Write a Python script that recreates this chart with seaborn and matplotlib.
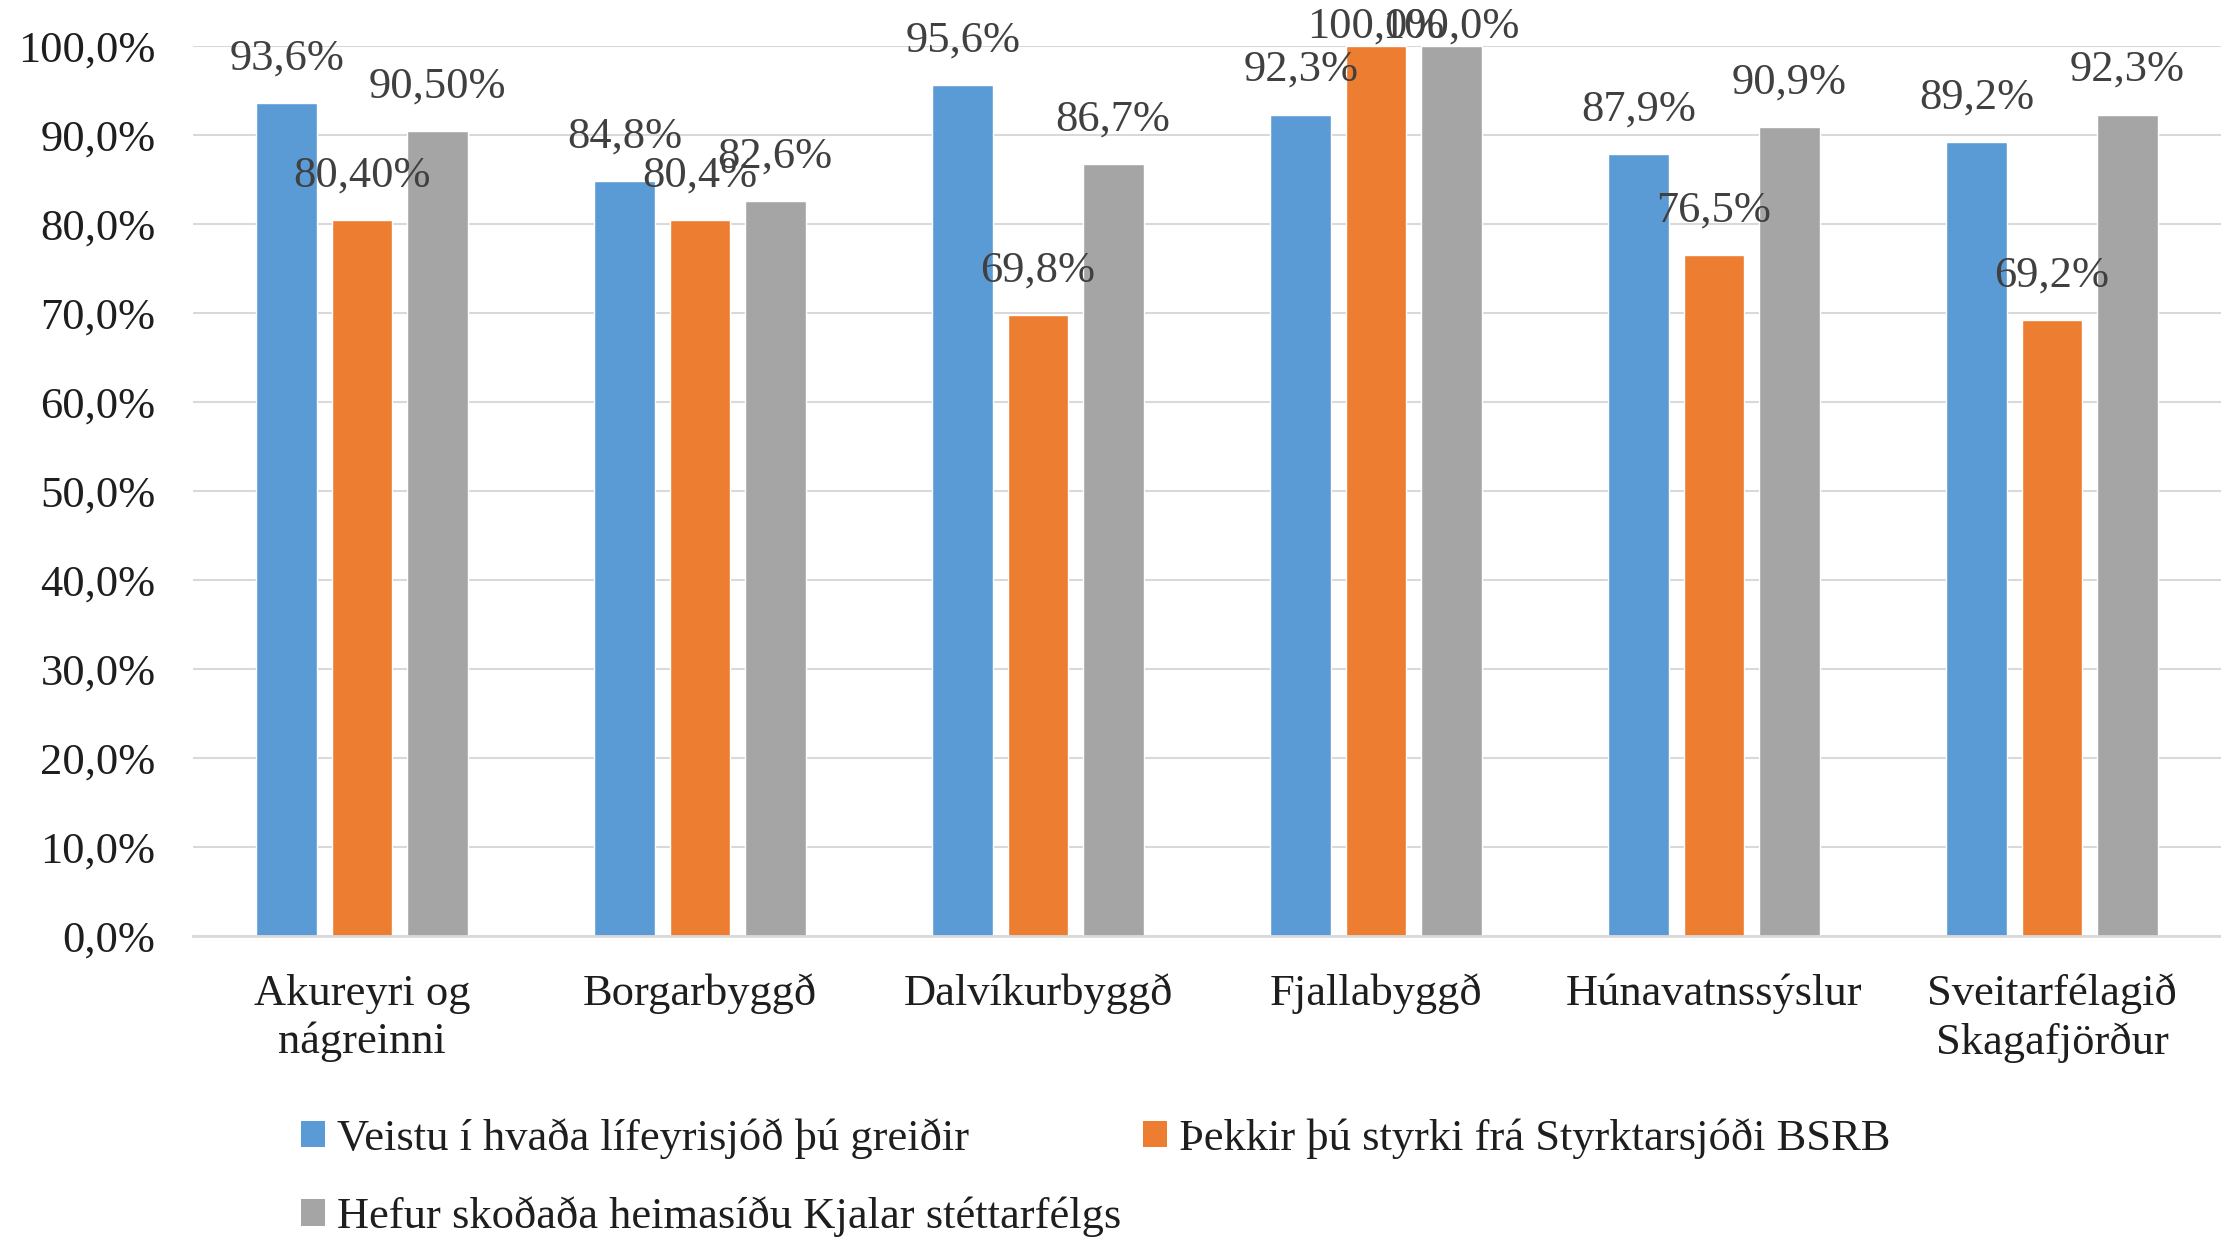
import pandas as pd
import matplotlib.pyplot as plt
import seaborn as sns
from matplotlib.patches import Patch

categories = ['Akureyri og\nnágreinni', 'Borgarbyggð', 'Dalvíkurbyggð',
              'Fjallabyggð', 'Húnavatnssýslur', 'Sveitarfélagið\nSkagafjörður']
series_names = ['Veistu í hvaða lífeyrisjóð þú greiðir',
                'Þekkir þú styrki frá Styrktarsjóði BSRB',
                'Hefur skoðaða heimasíðu Kjalar stéttarfélgs']
veistu = [0.936, 0.848, 0.956, 0.923, 0.879, 0.892]
thekkir = [0.804, 0.804, 0.698, 1.000, 0.765, 0.692]
hefur = [0.905, 0.826, 0.867, 1.000, 0.909, 0.923]
veistu_labels = ['93,6%', '84,8%', '95,6%', '92,3%', '87,9%', '89,2%']
thekkir_labels = ['80,40%', '80,4%', '69,8%', '100,0%', '76,5%', '69,2%']
hefur_labels = ['90,50%', '82,6%', '86,7%', '100,0%', '90,9%', '92,3%']
yticks = [0.0, 0.1, 0.2, 0.3, 0.4, 0.5, 0.6, 0.7, 0.8, 0.9, 1.0]

colors = ['#5B9BD5', '#ED7D31', '#A5A5A5']


def main():
    sns.set_style('white')
    plt.rcParams['font.family'] = ['Liberation Serif', 'DejaVu Serif']

    df = pd.DataFrame({
        'Svæði': categories * 3,
        'Hlutfall': veistu + thekkir + hefur,
        'Spurning': [s for s in series_names for _ in categories],
    })
    all_labels = [veistu_labels, thekkir_labels, hefur_labels]

    W, H = 2221, 1239
    fig = plt.figure(figsize=(W / 100, H / 100), dpi=100)
    ax = fig.add_axes([193 / W, 1 - 936 / H, (W - 193) / W, (936 - 46) / H])

    sns.barplot(data=df, x='Svæði', y='Hlutfall', hue='Spurning',
                palette=colors, width=0.667, gap=0.19, legend=False,
                saturation=1, ax=ax)

    ax.set_xlim(-0.5, 5.5)
    ax.set_ylim(0, 1)
    ax.set_yticks(yticks)
    ax.set_yticklabels([f"{t * 100:.1f}%".replace('.', ',') for t in yticks])
    ax.yaxis.grid(True, color='#D9D9D9', linewidth=1.5)
    ax.set_axisbelow(True)
    for side in ['left', 'right', 'top']:
        ax.spines[side].set_visible(False)
    ax.spines['bottom'].set_color('#D9D9D9')
    ax.spines['bottom'].set_linewidth(2)
    ax.tick_params(axis='y', length=0, pad=27, labelsize=32, labelcolor='#1E1E1E')
    ax.tick_params(axis='x', length=0, pad=27, labelsize=32, labelcolor='#1E1E1E')
    for lbl in ax.get_xticklabels():
        lbl.set_linespacing(1.25)
    ax.set_xlabel('')
    ax.set_ylabel('')

    # data labels above the bars
    for container, labels in zip(ax.containers, all_labels):
        for bar, txt in zip(container.patches, labels):
            cx = bar.get_x() + bar.get_width() / 2
            top = bar.get_height()
            ax.text(cx, min(top + 0.05, 1.022), txt, ha='center', va='center',
                    fontsize=32, color='#404040', clip_on=False)

    # legend, row-major order like Excel
    handles = [Patch(facecolor=c, edgecolor='none') for c in colors]
    order = [0, 2, 1]
    fig.legend([handles[i] for i in order], [series_names[i] for i in order],
               ncol=2, loc='upper left', bbox_to_anchor=(301 / W, 1 - 1118 / H),
               frameon=False, fontsize=32, handlelength=0.55, handleheight=0.55,
               handletextpad=0.25, columnspacing=0.5, labelspacing=0.85,
               borderpad=0, borderaxespad=0, labelcolor='#1E1E1E')

    fig.savefig('out.png', dpi=100)


if __name__ == "__main__":
    main()
